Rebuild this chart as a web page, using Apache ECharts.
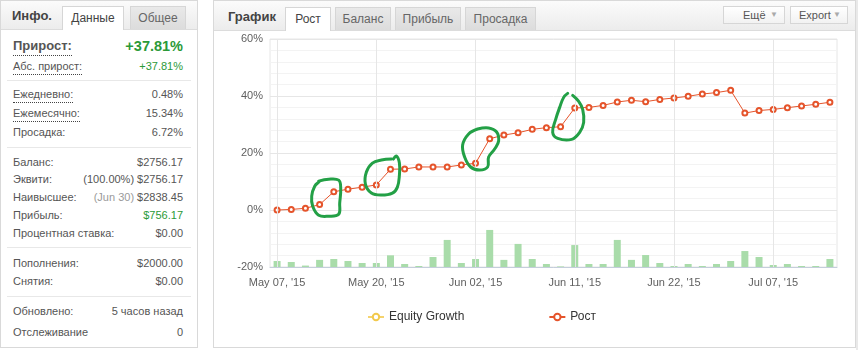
<!DOCTYPE html>
<html>
<head>
<meta charset="utf-8">
<script src="https://cdn.jsdelivr.net/npm/echarts@6/dist/echarts.min.js"></script>
<style>
  html, body { margin: 0; padding: 0; background: #fff; }
  body { width: 858px; height: 350px; position: relative; overflow: hidden;
         font-family: "Liberation Sans", Arial, sans-serif; color: #555; }
  .panel { position: absolute; top: 0; height: 346px; background: #fff;
           border: 1px solid #d9d9d9; box-sizing: content-box; }
  .head { position: absolute; left: 0; right: 0; top: 0; height: 28px;
          background: linear-gradient(#fbfbfb, #ececec); border-bottom: 1px solid #dcdcdc; }
  .title { position: absolute; top: 7px; font-size: 13px; font-weight: bold; color: #444; }
  .tab { position: absolute; top: 5px; height: 23px; box-sizing: border-box;
         border: 1px solid #d6d6d6; border-bottom: none; font-size: 12px; color: #666;
         text-align: center; line-height: 22px;
         background: linear-gradient(#e9e9e9, #dcdcdc); }
  .tab.on { background: #fff; height: 24px; color: #444; }
  .btn { position: absolute; top: 5px; height: 18px; box-sizing: border-box;
         border: 1px solid #d6d6d6; background: linear-gradient(#fff, #f2f2f2);
         font-size: 11px; color: #555; line-height: 16px; padding-left: 8px; }
  .btn .tri { position: absolute; right: 6px; top: 0; color: #aaa; font-size: 8px; }
  .row { position: absolute; left: 12px; right: 14px; height: 16px; font-size: 11px; line-height: 16px; }
  .row .l { position: absolute; left: 0; color: #555; }
  .row .v { position: absolute; right: 0; color: #555; }
  .dot { border-bottom: 1px dotted #444; }
  .row .g { color: #2b9a38; }
  .sep { position: absolute; left: 6px; right: 6px; height: 1px; background: #e8e8e8; }
  #chart { position: absolute; left: 214px; top: 30px; width: 640px; height: 316px; }
</style>
</head>
<body>

<!-- info panel -->
<div class="panel" style="left:0; width:196px;">
  <div class="head">
    <div class="title" style="left:11px;">Инфо.</div>
    <div class="tab on" style="left:61px; width:62px;">Данные</div>
    <div class="tab" style="left:129px; width:56px;">Общее</div>
  </div>
  <div class="row" style="top:36px; height:20px;">
    <span class="l dot" style="font-size:13px; font-weight:bold; color:#555; line-height:18px;">Прирост:</span>
    <span class="v g" style="font-size:14.5px; font-weight:bold; line-height:18px;">+37.81%</span>
  </div>
  <div class="row" style="top:57px;"><span class="l dot">Абс. прирост:</span><span class="v g">+37.81%</span></div>
  <div class="sep" style="top:79px;"></div>
  <div class="row" style="top:85px;"><span class="l dot">Ежедневно:</span><span class="v">0.48%</span></div>
  <div class="row" style="top:104px;"><span class="l dot">Ежемесячно:</span><span class="v">15.34%</span></div>
  <div class="row" style="top:123px;"><span class="l">Просадка:</span><span class="v">6.72%</span></div>
  <div class="sep" style="top:146px;"></div>
  <div class="row" style="top:153px;"><span class="l">Баланс:</span><span class="v">$2756.17</span></div>
  <div class="row" style="top:170px;"><span class="l">Эквити:</span><span class="v">(100.00%) $2756.17</span></div>
  <div class="row" style="top:188px;"><span class="l">Наивысшее:</span><span class="v"><span style="color:#9a9a9a;">(Jun 30)</span> $2838.45</span></div>
  <div class="row" style="top:206px;"><span class="l">Прибыль:</span><span class="v g">$756.17</span></div>
  <div class="row" style="top:224px;"><span class="l">Процентная ставка:</span><span class="v">$0.00</span></div>
  <div class="sep" style="top:246px;"></div>
  <div class="row" style="top:254px;"><span class="l">Пополнения:</span><span class="v">$2000.00</span></div>
  <div class="row" style="top:272px;"><span class="l">Снятия:</span><span class="v">$0.00</span></div>
  <div class="sep" style="top:295px;"></div>
  <div class="row" style="top:302px;"><span class="l">Обновлено:</span><span class="v">5 часов назад</span></div>
  <div class="row" style="top:323px;"><span class="l">Отслеживание</span><span class="v">0</span></div>
</div>

<!-- chart panel -->
<div class="panel" style="left:213px; width:641px;">
  <div class="head" style="height:29px;">
    <div class="title" style="left:14px; top:8px;">График</div>
    <div class="tab on" style="left:71px; width:46px; top:6px; height:24px;">Рост</div>
    <div class="tab" style="left:121px; width:56px; top:6px;">Баланс</div>
    <div class="tab" style="left:181px; width:66px; top:6px;">Прибыль</div>
    <div class="tab" style="left:251px; width:71px; top:6px;">Просадка</div>
    <div class="btn" style="left:509px; width:62px; padding-left:19px;">Ещё<span class="tri">▼</span></div>
    <div class="btn" style="left:576px; width:58px;">Export<span class="tri">▼</span></div>
  </div>
</div>
<div style="position:absolute; left:856px; top:0; width:2px; height:350px; background:#e9e9e9;"></div>

<div id="chart"></div>

<script>
// x-axis tick labels, one every 7 points
const tickLabels = ["May 07, '15", "May 20, '15", "Jun 02, '15", "Jun 11, '15", "Jun 22, '15", "Jul 07, '15"];
const tickStep = 7;

// cumulative growth, %
const growth = [0, 0.2, 0.6, 1.9, 6.4, 7.3, 8.0, 8.8, 14.3, 14.4,
                15.1, 15.1, 15.1, 15.8, 16.4, 25.0, 26.3, 27.1, 28.3, 28.9,
                29.2, 35.8, 36.0, 36.7, 37.9, 38.5, 38.0, 38.8, 39.3, 39.9,
                40.7, 41.2, 42.0, 34.0, 34.9, 35.3, 35.9, 36.5, 37.1, 37.81];

// per-point activity bars (green)
const activity = [2.1, 1.75, 0.5, 2.5, 2.8, 2.1, 1.4, 1.4, 4.1, 1.05,
                  0.35, 3.5, 9.5, 1.4, 2.8, 13.0, 2.5, 8.1, 2.8, 1.05,
                  0.2, 7.7, 1.05, 1.05, 9.5, 2.5, 4.2, 1.4, 0.35, 1.05,
                  0.35, 1.05, 2.1, 5.6, 3.5, 0.7, 1.05, 0.35, 0.35, 2.8];

// equity curve series (shown in legend only)
const equityGrowth = [];

// hand-drawn highlight loops: segment start index and loop outline offsets (px) around the segment midpoint
const highlights = [
  { at: 3,  open: false, outline: [[-8,-17],[2,-19],[12,-18],[14,-10],[13,5],[12,16],[2,18],[-8,17],[-14,8],[-15,-2],[-12,-12],[-7,-17]] },
  { at: 7,  open: true,  outline: [[10,-18],[13,-21],[16,-14],[16,-2],[14,10],[9,16],[-2,18],[-12,16],[-18,7],[-17,-5],[-11,-14],[-2,-17],[8,-18]] },
  { at: 14, open: false, outline: [[-5,-22],[6,-23],[14,-19],[16,-10],[12,-2],[6,6],[5,16],[-3,19],[-12,16],[-18,6],[-20,-6],[-14,-17]] },
  { at: 20, open: true,  outline: [[0,-24],[-4,-20],[-8,-10],[-12,2],[-15,15],[-10,21],[4,22],[12,15],[16,5],[15,-8],[11,-16],[5,-22]] }
];

const categories = growth.map((_, i) => i);
const labelIdx = tickLabels.map((_, k) => k * tickStep);
const font = '"Liberation Sans", Arial, sans-serif';

const chart = echarts.init(document.getElementById('chart'), null, { renderer: 'canvas' });

chart.setOption({
  animation: false,
  textStyle: { fontFamily: font },
  grid: { left: 56, top: 9, right: 17, bottom: 79, show: true, borderColor: '#e6e6e6', borderWidth: 1 },
  legend: {
    left: 148, top: 276, itemGap: 84, itemWidth: 16, itemHeight: 8,
    textStyle: { fontSize: 12, color: '#333', fontFamily: font },
    data: ['Equity Growth', 'Рост']
  },
  xAxis: {
    type: 'category',
    data: categories,
    boundaryGap: true,
    axisLine: { onZero: false, lineStyle: { color: '#c4cedb' } },
    axisTick: { show: false },
    splitLine: { show: false },
    axisLabel: {
      interval: tickStep - 1, margin: 10, fontSize: 11, color: '#606060', fontFamily: font,
      formatter: (v, i) => tickLabels[i / tickStep] || ''
    }
  },
  yAxis: [
    {
      type: 'value', min: -20, max: 60, interval: 20,
      axisLine: { show: false }, axisTick: { show: false },
      axisLabel: { formatter: '{value}%', fontSize: 11, color: '#606060', margin: 7, fontFamily: font },
      splitLine: { lineStyle: { color: '#e6e6e6' } },
      minorTick: { show: false, splitNumber: 5 },
      minorSplitLine: { show: true, lineStyle: { color: '#f3f3f3' } }
    },
    { type: 'value', min: 0, max: 80, show: false, splitLine: { show: false } }
  ],
  series: [
    {
      name: 'activity', type: 'bar', yAxisIndex: 1, data: activity,
      barWidth: 7, itemStyle: { color: '#a9dcaa' }, silent: true, z: 1,
      markLine: {
        silent: true, symbol: ['none', 'none'], label: { show: false },
        lineStyle: { color: '#e6e6e6', type: 'solid', width: 1 },
        data: labelIdx.map(i => ({ xAxis: i }))
      }
    },
    {
      name: 'Equity Growth', type: 'line', data: equityGrowth,
      symbol: 'emptyCircle', symbolSize: 5,
      itemStyle: { color: '#f2c94c' }, lineStyle: { color: '#f5d36e', width: 2 }
    },
    {
      name: 'Рост', type: 'line', data: growth, z: 3,
      symbol: 'emptyCircle', symbolSize: 5,
      itemStyle: { color: '#e5542b', borderWidth: 1.2 },
      lineStyle: { color: '#e5542b', width: 1 }
    }
  ]
});

// highlight loops placed around the matching growth segments
const loops = highlights.map(h => {
  const a = chart.convertToPixel({ seriesIndex: 2 }, [h.at, growth[h.at]]);
  const b = chart.convertToPixel({ seriesIndex: 2 }, [h.at + 1, growth[h.at + 1]]);
  const cx = (a[0] + b[0]) / 2, cy = (a[1] + b[1]) / 2;
  const pts = h.outline.map(p => [cx + p[0], cy + p[1]]);
  if (!h.open) pts.push(pts[0]);
  return {
    type: 'polyline', silent: true, z: 100,
    shape: { points: pts, smooth: 0.4 },
    style: { stroke: '#23a046', lineWidth: 3, fill: null, lineCap: 'round', lineJoin: 'round' }
  };
});
chart.setOption({ graphic: loops });
</script>
</body>
</html>
